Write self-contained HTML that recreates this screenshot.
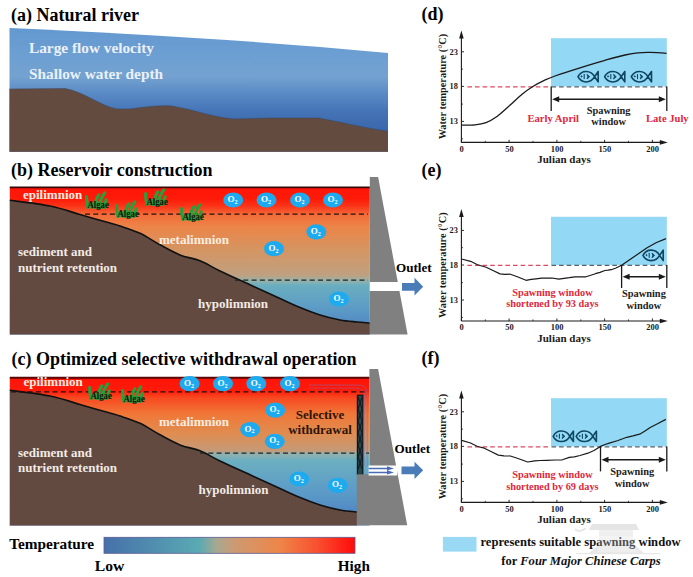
<!DOCTYPE html>
<html><head><meta charset="utf-8">
<style>
html,body{margin:0;padding:0;background:#fff;width:693px;height:577px;overflow:hidden}
svg{display:block}
text{font-family:"Liberation Serif",serif;font-weight:bold}
</style></head><body>
<svg width="693" height="577" viewBox="0 0 693 577">
<defs>
  <linearGradient id="gA" gradientUnits="userSpaceOnUse" x1="0" y1="28" x2="0" y2="135">
    <stop offset="0" stop-color="#6398d0"/>
    <stop offset="0.3" stop-color="#6ea0d2"/>
    <stop offset="0.45" stop-color="#74a2d0"/>
    <stop offset="0.6" stop-color="#5c8cc6"/>
    <stop offset="0.78" stop-color="#4474b6"/>
    <stop offset="1" stop-color="#3862a8"/>
  </linearGradient>
  <linearGradient id="gB" gradientUnits="userSpaceOnUse" x1="0" y1="187" x2="0" y2="334">
    <stop offset="0" stop-color="#ff1508"/>
    <stop offset="0.08" stop-color="#ff1a08"/>
    <stop offset="0.13" stop-color="#fa3418"/>
    <stop offset="0.19" stop-color="#f26c38"/>
    <stop offset="0.27" stop-color="#ec8448"/>
    <stop offset="0.42" stop-color="#d69460"/>
    <stop offset="0.6" stop-color="#bfa080"/>
    <stop offset="0.635" stop-color="#98b2a8"/>
    <stop offset="0.67" stop-color="#6aaec0"/>
    <stop offset="0.85" stop-color="#5a98c6"/>
    <stop offset="1" stop-color="#4c7cc0"/>
  </linearGradient>
  <linearGradient id="gC" gradientUnits="userSpaceOnUse" x1="0" y1="377" x2="0" y2="525">
    <stop offset="0" stop-color="#ff1408"/>
    <stop offset="0.09" stop-color="#ff1a0a"/>
    <stop offset="0.14" stop-color="#f84820"/>
    <stop offset="0.25" stop-color="#f07838"/>
    <stop offset="0.38" stop-color="#e08c50"/>
    <stop offset="0.5" stop-color="#c49a78"/>
    <stop offset="0.515" stop-color="#98b0a8"/>
    <stop offset="0.56" stop-color="#6cb0c0"/>
    <stop offset="0.8" stop-color="#5a98c8"/>
    <stop offset="1" stop-color="#4a7cc0"/>
  </linearGradient>
  <linearGradient id="gT" x1="0" y1="0" x2="1" y2="0">
    <stop offset="0" stop-color="#4670aa"/>
    <stop offset="0.38" stop-color="#5aaab4"/>
    <stop offset="0.45" stop-color="#a8a890"/>
    <stop offset="0.52" stop-color="#cc9a72"/>
    <stop offset="0.7" stop-color="#ee8648"/>
    <stop offset="0.85" stop-color="#f85030"/>
    <stop offset="1" stop-color="#ff0a0a"/>
  </linearGradient>
  <g id="o2">
    <ellipse cx="0" cy="0" rx="10" ry="7.6" fill="#1eaaee"/>
    <text x="-0.6" y="2" font-size="9" fill="#fff" text-anchor="middle">O<tspan font-size="6" dy="1.8">2</tspan></text>
  </g>
  <g id="algae">
    <ellipse cx="-0.5" cy="-0.8" rx="10.8" ry="3.8" fill="#2a9a3a" opacity="0.75"/>
    <path d="M-10,1.5 Q-11.6,-4.5 -11.4,-9.5 M-3.6,1.5 Q-2.2,-7 0.8,-11.2 M0.4,1.5 Q2.8,-8 6.8,-13 M5.8,1.5 Q7,-3 8.2,-6.2" fill="none" stroke="#27a03c" stroke-width="3.1" stroke-linecap="round"/>
    <text x="-10.6" y="2.4" font-size="9.9" fill="#0a1a0a" textLength="21.4" lengthAdjust="spacingAndGlyphs">Algae</text>
  </g>
  <g id="fish" fill="none" stroke="#0f4662" stroke-width="1.6" stroke-linejoin="round">
    <path d="M20.2,5.2 L16.6,0 C13,-6.8 3.5,-7.2 0,0 C3.5,7.2 13,6.8 16.6,0 L20.2,-5.2 Z"/>
    <circle cx="3.5" cy="-0.3" r="0.6" fill="#124a66" stroke-width="0.8"/>
    <path d="M6.2,-2.6 L6.2,2.4" stroke-width="1.1"/>
    <path d="M9,-2.3 L11.6,0 L9,2.3 L9.8,0 Z" fill="#0f4662" stroke-width="0.9"/>
  </g>
</defs>
<text x="11" y="20.5" font-size="18" fill="#000">(a) Natural river</text>
<path d="M9.5,28 C120,33 250,40 388,53 L388,151.7 L9.5,151.7 Z" fill="url(#gA)"/>
<path d="M9.5,89 L65,88.5 C85,92 100,106 117,109 L130,109 C145,107 160,105 172,106 C195,110 215,118 235,119 L270,118 L318,118 C340,122 365,128 388,131.4 L388,151.7 L9.5,151.7 Z" fill="#644b40"/>
<path d="M9.5,89 L65,88.5 C85,92 100,106 117,109 L130,109 C145,107 160,105 172,106 C195,110 215,118 235,119 L270,118 L318,118 C340,122 365,128 388,131.4" fill="none" stroke="#3a4658" stroke-width="0.8" stroke-opacity="0.6"/>
<text x="29" y="53.4" font-size="15.3" fill="#eaf1f9">Large flow velocity</text>
<text x="29" y="79.4" font-size="15.3" fill="#eaf1f9">Shallow water depth</text>
<text x="11" y="175.7" font-size="18" fill="#000">(b) Reservoir construction</text>
<rect x="9.8" y="187" width="360" height="147.5" fill="url(#gB)"/>
<path d="M9.8,200.3 C16.5,201.2 38.3,203.6 50.0,206.0 C61.7,208.4 71.7,212.1 80.0,214.5 C88.3,216.9 93.3,218.4 100.0,220.3 C106.7,222.2 113.3,223.8 120.0,226.0 C126.7,228.2 133.3,230.2 140.0,233.3 C146.7,236.4 153.3,241.2 160.0,244.8 C166.7,248.4 173.3,252.2 180.0,254.9 C186.7,257.6 193.3,258.1 200.0,260.8 C206.7,263.5 211.7,267.0 220.0,271.0 C228.3,275.0 240.0,280.2 250.0,284.8 C260.0,289.4 271.7,294.7 280.0,298.5 C288.3,302.3 293.3,304.9 300.0,307.6 C306.7,310.4 313.3,312.9 320.0,315.0 C326.7,317.1 333.8,318.8 340.0,320.0 C346.2,321.2 352.0,321.5 357.0,322.0 C362.0,322.5 367.7,322.8 369.8,323.0 L369.8,334.5 L9.8,334.5 Z" fill="#634a40"/>
<path d="M9.8,200.3 C16.5,201.2 38.3,203.6 50.0,206.0 C61.7,208.4 71.7,212.1 80.0,214.5 C88.3,216.9 93.3,218.4 100.0,220.3 C106.7,222.2 113.3,223.8 120.0,226.0 C126.7,228.2 133.3,230.2 140.0,233.3 C146.7,236.4 153.3,241.2 160.0,244.8 C166.7,248.4 173.3,252.2 180.0,254.9 C186.7,257.6 193.3,258.1 200.0,260.8 C206.7,263.5 211.7,267.0 220.0,271.0 C228.3,275.0 240.0,280.2 250.0,284.8 C260.0,289.4 271.7,294.7 280.0,298.5 C288.3,302.3 293.3,304.9 300.0,307.6 C306.7,310.4 313.3,312.9 320.0,315.0 C326.7,317.1 333.8,318.8 340.0,320.0 C346.2,321.2 352.0,321.5 357.0,322.0 C362.0,322.5 367.7,322.8 369.8,323.0" fill="none" stroke="#111" stroke-width="1.6"/>
<line x1="9.8" y1="187.3" x2="369.8" y2="187.3" stroke="#3a0805" stroke-width="1.7"/>
<line x1="85" y1="214" x2="368" y2="214" stroke="#221010" stroke-width="1.25" stroke-dasharray="5,3.3"/>
<line x1="235" y1="280" x2="368" y2="280" stroke="#1e2222" stroke-width="1.25" stroke-dasharray="5,3.3"/>
<text x="23" y="199.3" font-size="13" fill="#fdeee0">epilimnion</text>
<text x="159" y="243.7" font-size="13" fill="#fdeee0">metalimnion</text>
<text x="18" y="256.3" font-size="13" fill="#f2ebe6">sediment and</text>
<text x="18" y="271.7" font-size="13" fill="#f2ebe6">nutrient retention</text>
<text x="198" y="307.5" font-size="13" fill="#f2ebe6">hypolimnion</text>
<use href="#algae" x="98" y="206"/>
<use href="#algae" x="128" y="215"/>
<use href="#algae" x="157" y="203"/>
<use href="#algae" x="193" y="218"/>
<use href="#o2" x="233.2" y="200"/>
<use href="#o2" x="266.5" y="200"/>
<use href="#o2" x="300" y="200"/>
<use href="#o2" x="333" y="200"/>
<use href="#o2" x="316.3" y="231.8"/>
<use href="#o2" x="274" y="248.7"/>
<use href="#o2" x="339" y="299"/>
<path d="M369.8,177 L378.1,177 L407.6,334.6 L369.8,334.6 Z" fill="#808080"/>
<rect x="369.8" y="282" width="31" height="9" fill="#fff"/>
<path d="M402,283 L414.5,283 L414.5,277.7 L423.2,286.8 L414.5,295.4 L414.5,290.7 L402,290.7 Z" fill="#4a7db8"/>
<text x="396" y="272.2" font-size="13.1" fill="#000">Outlet</text>
<text x="11.5" y="365.2" font-size="18" fill="#000">(c) Optimized selective withdrawal operation</text>
<rect x="9.8" y="377" width="359.6" height="148.5" fill="url(#gC)"/>
<path d="M9.8,390.3 C16.5,391.2 38.3,393.6 50.0,396.0 C61.7,398.4 71.7,402.1 80.0,404.5 C88.3,406.9 93.3,408.4 100.0,410.3 C106.7,412.2 113.3,413.8 120.0,416.0 C126.7,418.2 133.3,420.2 140.0,423.3 C146.7,426.4 153.3,431.2 160.0,434.8 C166.7,438.4 173.3,442.2 180.0,444.9 C186.7,447.6 193.3,448.1 200.0,450.8 C206.7,453.5 211.7,457.0 220.0,461.0 C228.3,465.0 240.0,470.2 250.0,474.8 C260.0,479.4 271.7,484.7 280.0,488.5 C288.3,492.3 293.3,494.9 300.0,497.6 C306.7,500.4 313.3,502.9 320.0,505.0 C326.7,507.1 333.8,508.8 340.0,510.0 C346.2,511.2 354.2,511.7 357.0,512.0 L357,525.5 L9.8,525.5 Z" fill="#634a40"/>
<path d="M9.8,390.3 C16.5,391.2 38.3,393.6 50.0,396.0 C61.7,398.4 71.7,402.1 80.0,404.5 C88.3,406.9 93.3,408.4 100.0,410.3 C106.7,412.2 113.3,413.8 120.0,416.0 C126.7,418.2 133.3,420.2 140.0,423.3 C146.7,426.4 153.3,431.2 160.0,434.8 C166.7,438.4 173.3,442.2 180.0,444.9 C186.7,447.6 193.3,448.1 200.0,450.8 C206.7,453.5 211.7,457.0 220.0,461.0 C228.3,465.0 240.0,470.2 250.0,474.8 C260.0,479.4 271.7,484.7 280.0,488.5 C288.3,492.3 293.3,494.9 300.0,497.6 C306.7,500.4 313.3,502.9 320.0,505.0 C326.7,507.1 333.8,508.8 340.0,510.0 C346.2,511.2 354.2,511.7 357.0,512.0" fill="none" stroke="#111" stroke-width="1.6"/>
<line x1="9.8" y1="377.8" x2="369.4" y2="377.8" stroke="#5a0805" stroke-width="2"/>
<line x1="11" y1="391.8" x2="368" y2="391.8" stroke="#221010" stroke-width="1.25" stroke-dasharray="5,3.3"/>
<line x1="200" y1="453" x2="369" y2="453" stroke="#1e2222" stroke-width="1.25" stroke-dasharray="5,3.3"/>
<text x="23.5" y="386" font-size="13" fill="#fdeee0">epilimnion</text>
<text x="159" y="426.2" font-size="13" fill="#fdeee0">metalimnion</text>
<text x="18" y="457.3" font-size="13" fill="#f2ebe6">sediment and</text>
<text x="18" y="472.4" font-size="13" fill="#f2ebe6">nutrient retention</text>
<text x="198.5" y="493.5" font-size="13" fill="#f2ebe6">hypolimnion</text>
<text x="320" y="418.5" font-size="13" fill="#2e1408" text-anchor="middle">Selective</text>
<text x="320" y="433.5" font-size="13" fill="#2e1408" text-anchor="middle">withdrawal</text>
<use href="#algae" x="101" y="397"/>
<use href="#algae" x="134" y="400"/>
<use href="#o2" x="189.6" y="383.7"/>
<use href="#o2" x="223" y="383.7"/>
<use href="#o2" x="256.3" y="383.7"/>
<use href="#o2" x="290" y="383.7"/>
<use href="#o2" x="275.2" y="410.2"/>
<use href="#o2" x="250.2" y="429.6"/>
<use href="#o2" x="274.8" y="441.4"/>
<use href="#o2" x="299.3" y="479"/>
<use href="#o2" x="337.7" y="485.3"/>
<path d="M309,385 L358,385 Q367.2,385 367.2,394 L367.2,466" fill="none" stroke="#7a6ab8" stroke-width="1" opacity="0.55"/>
<path d="M309,388.2 L356,388.2 Q364.6,388.2 364.6,396 L364.6,466" fill="none" stroke="#7a6ab8" stroke-width="1" opacity="0.4"/>
<rect x="357.4" y="395.2" width="5.4" height="79.4" fill="#27454c" stroke="#0c1416" stroke-width="1.2"/>
<path d="M358,397 L362.2,409 L358,421 L362.2,433 L358,445 L362.2,457 L358,469 M362.2,397 L358,409 L362.2,421 L358,433 L362.2,445 L358,457 L362.2,469" fill="none" stroke="#0c1416" stroke-width="0.9"/>
<path d="M369.4,369 L378.1,369 L407.2,525.3 L356.8,525.3 L356.8,474.3 L369.4,474.3 Z" fill="#808080"/>
<rect x="368.6" y="465.5" width="28.6" height="10" fill="#fff"/>
<path d="M368.6,468.4 L389,468.4 M368.6,472.4 L389,472.4" stroke="#4a6ab8" stroke-width="1.5"/>
<path d="M387,466.3 L394,468.4 L387,470.5 Z M387,470.3 L394,472.4 L387,474.5 Z" fill="#4a6ab8"/>
<path d="M401.5,466.4 L414.5,466.4 L414.5,461.7 L423.2,470.3 L414.5,479 L414.5,474.2 L401.5,474.2 Z" fill="#4a7db8"/>
<text x="394.6" y="453.4" font-size="13.1" fill="#000">Outlet</text>
<text x="9.2" y="548.9" font-size="15.3" fill="#000">Temperature</text>
<rect x="104" y="537.3" width="251" height="16" fill="url(#gT)" stroke="#5a5a90" stroke-width="0.8"/>
<text x="94.8" y="571.4" font-size="15.6" fill="#000">Low</text>
<text x="337.8" y="571.4" font-size="15.2" fill="#000">High</text>
<rect x="551" y="38.2" width="115.8" height="48.2" fill="#93d8f4"/>
<line x1="467.4" y1="86.8" x2="551" y2="86.8" stroke="#dc4a62" stroke-width="1.3" stroke-dasharray="4.6,3"/>
<line x1="551.5" y1="86.8" x2="666.8" y2="86.8" stroke="#56606a" stroke-width="1.3" stroke-dasharray="4.6,3"/>
<text x="421.5" y="20.0" font-size="18" fill="#000">(d)</text>
<line x1="461.4" y1="142.4" x2="461.4" y2="36" stroke="#1a1a1a" stroke-width="1.1"/>
<path d="M461.4,30.5 L459.09999999999997,38.5 L463.7,38.5 Z" fill="#1a1a1a"/>
<line x1="461.4" y1="142.4" x2="662" y2="142.4" stroke="#1a1a1a" stroke-width="1.1"/>
<path d="M667.8,142.4 L659.8,140.1 L659.8,144.7 Z" fill="#1a1a1a"/>
<line x1="461.4" y1="121.4" x2="464.0" y2="121.4" stroke="#1a1a1a" stroke-width="0.9"/>
<line x1="461.4" y1="86.4" x2="464.0" y2="86.4" stroke="#1a1a1a" stroke-width="0.9"/>
<line x1="461.4" y1="51.8" x2="464.0" y2="51.8" stroke="#1a1a1a" stroke-width="0.9"/>
<line x1="461.4" y1="138.8" x2="463.0" y2="138.8" stroke="#1a1a1a" stroke-width="0.8"/>
<line x1="461.4" y1="104.1" x2="463.0" y2="104.1" stroke="#1a1a1a" stroke-width="0.8"/>
<line x1="461.4" y1="69.1" x2="463.0" y2="69.1" stroke="#1a1a1a" stroke-width="0.8"/>
<text x="457.9" y="124.30000000000001" font-size="8.4" fill="#1a1a1a" text-anchor="end">13</text>
<text x="457.9" y="89.30000000000001" font-size="8.4" fill="#1a1a1a" text-anchor="end">18</text>
<text x="457.9" y="54.699999999999996" font-size="8.4" fill="#1a1a1a" text-anchor="end">23</text>
<line x1="461.4" y1="142.4" x2="461.4" y2="139.8" stroke="#1a1a1a" stroke-width="0.9"/>
<text x="461.7" y="151.8" font-size="8.5" fill="#1a1a1a" text-anchor="middle">0</text>
<line x1="509.1" y1="142.4" x2="509.1" y2="139.8" stroke="#1a1a1a" stroke-width="0.9"/>
<text x="509.4" y="151.8" font-size="8.5" fill="#1a1a1a" text-anchor="middle">50</text>
<line x1="556.9" y1="142.4" x2="556.9" y2="139.8" stroke="#1a1a1a" stroke-width="0.9"/>
<text x="557.2" y="151.8" font-size="8.5" fill="#1a1a1a" text-anchor="middle">100</text>
<line x1="604.6" y1="142.4" x2="604.6" y2="139.8" stroke="#1a1a1a" stroke-width="0.9"/>
<text x="604.9" y="151.8" font-size="8.5" fill="#1a1a1a" text-anchor="middle">150</text>
<line x1="652.4" y1="142.4" x2="652.4" y2="139.8" stroke="#1a1a1a" stroke-width="0.9"/>
<text x="652.7" y="151.8" font-size="8.5" fill="#1a1a1a" text-anchor="middle">200</text>
<line x1="485.3" y1="142.4" x2="485.3" y2="140.8" stroke="#1a1a1a" stroke-width="0.8"/>
<line x1="533.0" y1="142.4" x2="533.0" y2="140.8" stroke="#1a1a1a" stroke-width="0.8"/>
<line x1="580.8" y1="142.4" x2="580.8" y2="140.8" stroke="#1a1a1a" stroke-width="0.8"/>
<line x1="628.5" y1="142.4" x2="628.5" y2="140.8" stroke="#1a1a1a" stroke-width="0.8"/>
<text x="564" y="162.9" font-size="11" fill="#1a1a1a" text-anchor="middle">Julian days</text>
<text transform="translate(445.8,86.6) rotate(-90)" x="0" y="0" font-size="10.3" fill="#1a1a1a" text-anchor="middle">Water temperature (°C)</text>
<path d="M461.4,125.2 C463.7,125.1 470.9,125.2 475.0,124.8 C479.1,124.4 482.3,124.0 486.0,122.6 C489.7,121.2 493.1,119.3 497.0,116.5 C500.9,113.7 505.4,109.4 509.6,105.6 C513.8,101.8 518.5,97.1 522.4,93.9 C526.3,90.7 529.6,88.5 533.3,86.2 C536.9,84.0 540.7,82.1 544.3,80.4 C547.9,78.7 549.0,78.1 555.0,76.0 C561.0,73.9 571.7,70.4 580.0,67.8 C588.3,65.2 597.5,62.4 605.0,60.3 C612.5,58.2 619.5,56.2 625.0,55.0 C630.5,53.8 633.8,53.2 638.0,52.8 C642.2,52.4 645.2,52.3 650.0,52.4 C654.8,52.5 663.8,53.1 666.6,53.3" fill="none" stroke="#1a1a1a" stroke-width="1.3" stroke-linejoin="round"/>
<use href="#fish" x="578" y="76.7"/>
<use href="#fish" x="604.6" y="76.7"/>
<use href="#fish" x="631.3" y="76.7"/>
<line x1="551.2" y1="86.4" x2="551.2" y2="111" stroke="#1a1a1a" stroke-width="1.3"/>
<line x1="666.8" y1="86.4" x2="666.8" y2="111" stroke="#1a1a1a" stroke-width="1.3"/>
<line x1="556.2" y1="99.2" x2="661.8" y2="99.2" stroke="#1a1a1a" stroke-width="1.4"/>
<path d="M552.2,99.2 L559.2,96.2 L559.2,102.2 Z" fill="#1a1a1a"/>
<path d="M665.8,99.2 L658.8,96.2 L658.8,102.2 Z" fill="#1a1a1a"/>
<text x="608.6" y="113.7" font-size="10.4" fill="#222" text-anchor="middle">Spawning</text>
<text x="608.6" y="125" font-size="10.4" fill="#222" text-anchor="middle">window</text>
<text x="527.5" y="122.4" font-size="10.6" fill="#e0283c">Early April</text>
<text x="646" y="122.4" font-size="10.6" fill="#e0283c">Late July</text>
<rect x="551" y="216.8" width="115.8" height="48.2" fill="#93d8f4"/>
<line x1="467.4" y1="265.4" x2="551" y2="265.4" stroke="#dc4a62" stroke-width="1.3" stroke-dasharray="4.6,3"/>
<line x1="551.5" y1="265.4" x2="666.8" y2="265.4" stroke="#56606a" stroke-width="1.3" stroke-dasharray="4.6,3"/>
<text x="421.5" y="176.0" font-size="18" fill="#000">(e)</text>
<line x1="461.4" y1="321.0" x2="461.4" y2="214.6" stroke="#1a1a1a" stroke-width="1.1"/>
<path d="M461.4,209.1 L459.09999999999997,217.1 L463.7,217.1 Z" fill="#1a1a1a"/>
<line x1="461.4" y1="321.0" x2="662" y2="321.0" stroke="#1a1a1a" stroke-width="1.1"/>
<path d="M667.8,321.0 L659.8,318.7 L659.8,323.29999999999995 Z" fill="#1a1a1a"/>
<line x1="461.4" y1="300.0" x2="464.0" y2="300.0" stroke="#1a1a1a" stroke-width="0.9"/>
<line x1="461.4" y1="265.0" x2="464.0" y2="265.0" stroke="#1a1a1a" stroke-width="0.9"/>
<line x1="461.4" y1="230.39999999999998" x2="464.0" y2="230.39999999999998" stroke="#1a1a1a" stroke-width="0.9"/>
<line x1="461.4" y1="317.4" x2="463.0" y2="317.4" stroke="#1a1a1a" stroke-width="0.8"/>
<line x1="461.4" y1="282.7" x2="463.0" y2="282.7" stroke="#1a1a1a" stroke-width="0.8"/>
<line x1="461.4" y1="247.7" x2="463.0" y2="247.7" stroke="#1a1a1a" stroke-width="0.8"/>
<text x="457.9" y="302.9" font-size="8.4" fill="#1a1a1a" text-anchor="end">13</text>
<text x="457.9" y="267.9" font-size="8.4" fill="#1a1a1a" text-anchor="end">18</text>
<text x="457.9" y="233.29999999999998" font-size="8.4" fill="#1a1a1a" text-anchor="end">23</text>
<line x1="461.4" y1="321.0" x2="461.4" y2="318.4" stroke="#1a1a1a" stroke-width="0.9"/>
<text x="461.7" y="330.4" font-size="8.5" fill="#1a1a1a" text-anchor="middle">0</text>
<line x1="509.1" y1="321.0" x2="509.1" y2="318.4" stroke="#1a1a1a" stroke-width="0.9"/>
<text x="509.4" y="330.4" font-size="8.5" fill="#1a1a1a" text-anchor="middle">50</text>
<line x1="556.9" y1="321.0" x2="556.9" y2="318.4" stroke="#1a1a1a" stroke-width="0.9"/>
<text x="557.2" y="330.4" font-size="8.5" fill="#1a1a1a" text-anchor="middle">100</text>
<line x1="604.6" y1="321.0" x2="604.6" y2="318.4" stroke="#1a1a1a" stroke-width="0.9"/>
<text x="604.9" y="330.4" font-size="8.5" fill="#1a1a1a" text-anchor="middle">150</text>
<line x1="652.4" y1="321.0" x2="652.4" y2="318.4" stroke="#1a1a1a" stroke-width="0.9"/>
<text x="652.7" y="330.4" font-size="8.5" fill="#1a1a1a" text-anchor="middle">200</text>
<line x1="485.3" y1="321.0" x2="485.3" y2="319.4" stroke="#1a1a1a" stroke-width="0.8"/>
<line x1="533.0" y1="321.0" x2="533.0" y2="319.4" stroke="#1a1a1a" stroke-width="0.8"/>
<line x1="580.8" y1="321.0" x2="580.8" y2="319.4" stroke="#1a1a1a" stroke-width="0.8"/>
<line x1="628.5" y1="321.0" x2="628.5" y2="319.4" stroke="#1a1a1a" stroke-width="0.8"/>
<text x="564" y="341.5" font-size="11" fill="#1a1a1a" text-anchor="middle">Julian days</text>
<text transform="translate(445.8,265.2) rotate(-90)" x="0" y="0" font-size="10.3" fill="#1a1a1a" text-anchor="middle">Water temperature (°C)</text>
<path d="M461.6,259.0 L470.6,261.3 L477.5,264.7 L486.2,267.3 L493.0,270.5 L500.0,273.9 L505.0,274.3 L510.4,274.2 L518.0,277.0 L526.0,280.3 L531.2,279.4 L536.0,278.8 L541.6,278.2 L552.0,278.0 L558.9,279.1 L564.0,278.4 L569.3,277.7 L575.0,276.8 L585.9,276.8 L590.0,275.5 L595.4,273.7 L600.0,272.4 L604.9,270.5 L608.0,270.2 L611.3,269.7 L616.0,268.0 L621.6,265.3 L634.0,256.8 L646.7,248.0 L656.0,242.8 L666.0,238.6" fill="none" stroke="#1a1a1a" stroke-width="1.2" stroke-linejoin="round"/>
<use href="#fish" x="643" y="255.4"/>
<line x1="621.6" y1="265" x2="621.6" y2="288" stroke="#1a1a1a" stroke-width="1.3"/>
<line x1="666.8" y1="265" x2="666.8" y2="288" stroke="#1a1a1a" stroke-width="1.3"/>
<line x1="626.6" y1="276.8" x2="661.8" y2="276.8" stroke="#1a1a1a" stroke-width="1.4"/>
<path d="M622.6,276.8 L629.6,273.8 L629.6,279.8 Z" fill="#1a1a1a"/>
<path d="M665.8,276.8 L658.8,273.8 L658.8,279.8 Z" fill="#1a1a1a"/>
<text x="643.9" y="297.4" font-size="10.4" fill="#222" text-anchor="middle">Spawning</text>
<text x="643.9" y="308.6" font-size="10.4" fill="#222" text-anchor="middle">window</text>
<text x="552.4" y="295.6" font-size="10.3" fill="#e0283c" text-anchor="middle">Spawning window</text>
<text x="552.4" y="307.4" font-size="10.3" fill="#e0283c" text-anchor="middle">shortened by 93 days</text>
<rect x="551" y="398.2" width="115.8" height="48.2" fill="#93d8f4"/>
<line x1="467.4" y1="446.8" x2="551" y2="446.8" stroke="#dc4a62" stroke-width="1.3" stroke-dasharray="4.6,3"/>
<line x1="551.5" y1="446.8" x2="666.8" y2="446.8" stroke="#56606a" stroke-width="1.3" stroke-dasharray="4.6,3"/>
<text x="421.5" y="364.3" font-size="18" fill="#000">(f)</text>
<line x1="461.4" y1="502.4" x2="461.4" y2="396" stroke="#1a1a1a" stroke-width="1.1"/>
<path d="M461.4,390.5 L459.09999999999997,398.5 L463.7,398.5 Z" fill="#1a1a1a"/>
<line x1="461.4" y1="502.4" x2="662" y2="502.4" stroke="#1a1a1a" stroke-width="1.1"/>
<path d="M667.8,502.4 L659.8,500.1 L659.8,504.7 Z" fill="#1a1a1a"/>
<line x1="461.4" y1="481.4" x2="464.0" y2="481.4" stroke="#1a1a1a" stroke-width="0.9"/>
<line x1="461.4" y1="446.4" x2="464.0" y2="446.4" stroke="#1a1a1a" stroke-width="0.9"/>
<line x1="461.4" y1="411.8" x2="464.0" y2="411.8" stroke="#1a1a1a" stroke-width="0.9"/>
<line x1="461.4" y1="498.8" x2="463.0" y2="498.8" stroke="#1a1a1a" stroke-width="0.8"/>
<line x1="461.4" y1="464.1" x2="463.0" y2="464.1" stroke="#1a1a1a" stroke-width="0.8"/>
<line x1="461.4" y1="429.1" x2="463.0" y2="429.1" stroke="#1a1a1a" stroke-width="0.8"/>
<text x="457.9" y="484.3" font-size="8.4" fill="#1a1a1a" text-anchor="end">13</text>
<text x="457.9" y="449.3" font-size="8.4" fill="#1a1a1a" text-anchor="end">18</text>
<text x="457.9" y="414.7" font-size="8.4" fill="#1a1a1a" text-anchor="end">23</text>
<line x1="461.4" y1="502.4" x2="461.4" y2="499.8" stroke="#1a1a1a" stroke-width="0.9"/>
<text x="461.7" y="511.8" font-size="8.5" fill="#1a1a1a" text-anchor="middle">0</text>
<line x1="509.1" y1="502.4" x2="509.1" y2="499.8" stroke="#1a1a1a" stroke-width="0.9"/>
<text x="509.4" y="511.8" font-size="8.5" fill="#1a1a1a" text-anchor="middle">50</text>
<line x1="556.9" y1="502.4" x2="556.9" y2="499.8" stroke="#1a1a1a" stroke-width="0.9"/>
<text x="557.2" y="511.8" font-size="8.5" fill="#1a1a1a" text-anchor="middle">100</text>
<line x1="604.6" y1="502.4" x2="604.6" y2="499.8" stroke="#1a1a1a" stroke-width="0.9"/>
<text x="604.9" y="511.8" font-size="8.5" fill="#1a1a1a" text-anchor="middle">150</text>
<line x1="652.4" y1="502.4" x2="652.4" y2="499.8" stroke="#1a1a1a" stroke-width="0.9"/>
<text x="652.7" y="511.8" font-size="8.5" fill="#1a1a1a" text-anchor="middle">200</text>
<line x1="485.3" y1="502.4" x2="485.3" y2="500.8" stroke="#1a1a1a" stroke-width="0.8"/>
<line x1="533.0" y1="502.4" x2="533.0" y2="500.8" stroke="#1a1a1a" stroke-width="0.8"/>
<line x1="580.8" y1="502.4" x2="580.8" y2="500.8" stroke="#1a1a1a" stroke-width="0.8"/>
<line x1="628.5" y1="502.4" x2="628.5" y2="500.8" stroke="#1a1a1a" stroke-width="0.8"/>
<text x="564" y="522.9" font-size="11" fill="#1a1a1a" text-anchor="middle">Julian days</text>
<text transform="translate(445.8,446.6) rotate(-90)" x="0" y="0" font-size="10.3" fill="#1a1a1a" text-anchor="middle">Water temperature (°C)</text>
<path d="M461.6,440.4 L470.6,443.0 L477.5,446.5 L484.4,448.2 L491.0,451.5 L498.3,455.1 L504.0,455.8 L510.4,456.0 L518.0,458.5 L527.7,462.0 L534.7,460.8 L540.0,460.5 L546.8,460.3 L555.0,460.0 L562.4,459.8 L569.3,457.4 L574.2,456.8 L580.0,455.5 L587.9,453.2 L594.0,450.5 L600.5,446.4 L605.0,444.5 L609.3,443.1 L618.0,440.5 L626.8,437.3 L633.0,435.8 L640.5,433.8 L645.0,431.0 L650.2,427.5 L658.0,423.5 L665.8,419.4" fill="none" stroke="#1a1a1a" stroke-width="1.2" stroke-linejoin="round"/>
<use href="#fish" x="553.2" y="436.3"/>
<use href="#fish" x="576.2" y="436.3"/>
<line x1="600.5" y1="446.4" x2="600.5" y2="471.4" stroke="#1a1a1a" stroke-width="1.3"/>
<line x1="666.8" y1="446.4" x2="666.8" y2="471.4" stroke="#1a1a1a" stroke-width="1.3"/>
<line x1="605.5" y1="459.7" x2="661.8" y2="459.7" stroke="#1a1a1a" stroke-width="1.4"/>
<path d="M601.5,459.7 L608.5,456.7 L608.5,462.7 Z" fill="#1a1a1a"/>
<path d="M665.8,459.7 L658.8,456.7 L658.8,462.7 Z" fill="#1a1a1a"/>
<text x="632.2" y="474.8" font-size="10.4" fill="#222" text-anchor="middle">Spawning</text>
<text x="632.2" y="486.5" font-size="10.4" fill="#222" text-anchor="middle">window</text>
<text x="552.4" y="478.3" font-size="10.3" fill="#e0283c" text-anchor="middle">Spawning window</text>
<text x="552.4" y="490.3" font-size="10.3" fill="#e0283c" text-anchor="middle">shortened by 69 days</text>
<g opacity="0.6"><path d="M589,530 L592,524 L636,524 L639,530 Z" fill="#d4d4d4"/><rect x="599" y="530" width="34" height="16" fill="#e6e6e6"/><path d="M597,546 L636,546 L644,553 L589,553 Z" fill="#dcdcdc"/><rect x="576" y="553" width="84" height="1.2" fill="#d8d8d8"/><path d="M586,528 C581,532 577,531 575,529" stroke="#d8d8d8" stroke-width="2" fill="none"/></g>
<rect x="442.9" y="536.9" width="33.6" height="14.7" fill="#99d9f3"/>
<text x="480.5" y="545.9" font-size="12.6" fill="#111">represents suitable spawning window</text>
<text x="501.3" y="564.8" font-size="12.55" fill="#111">for <tspan font-style="italic">Four Major Chinese Carps</tspan></text>
<rect x="598" y="536" width="38" height="16" fill="#fff" opacity="0.25"/>
</svg>
</body></html>
